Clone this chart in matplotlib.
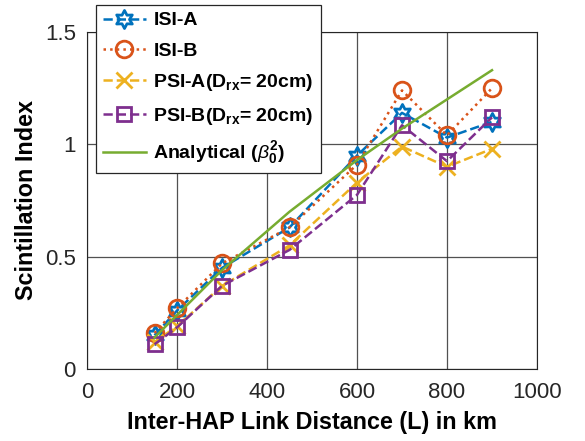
import matplotlib.pyplot as plt
from matplotlib.path import Path
import numpy as np

plt.rcParams['font.family'] = ['Liberation Sans', 'DejaVu Sans']
plt.rcParams['mathtext.fontset'] = 'custom'
plt.rcParams['mathtext.rm'] = 'Liberation Sans:bold'
plt.rcParams['mathtext.bf'] = 'Liberation Sans:bold'
plt.rcParams['mathtext.it'] = 'Liberation Sans:italic'

# link distance in km
dist = [150, 200, 300, 450, 600, 700, 800, 900]
isi_a = [0.15, 0.26, 0.45, 0.63, 0.95, 1.14, 1.03, 1.10]
isi_b = [0.16, 0.27, 0.47, 0.63, 0.91, 1.24, 1.04, 1.25]
psi_a = [0.12, 0.19, 0.37, 0.55, 0.83, 0.99, 0.90, 0.98]
psi_b = [0.11, 0.185, 0.37, 0.53, 0.775, 1.085, 0.925, 1.12]
analytical = [0.14, 0.24, 0.44, 0.70, 0.93, 1.07, 1.20, 1.33]

# six-pointed star marker (MATLAB hexagram look-alike)
ang = np.linspace(0, 2 * np.pi, 13)[:-1] + np.pi / 2
rad = np.where(np.arange(12) % 2 == 0, 1.0, 0.55)
verts = np.column_stack([rad * np.cos(ang), rad * np.sin(ang)])
hexagram = Path(np.vstack([verts, verts[:1]]), closed=True)

fig = plt.figure(figsize=(5.85, 4.41), dpi=100)
ax = fig.add_axes([87 / 585, 1 - 369 / 441, 450 / 585, 337 / 441])

ax.plot(dist, isi_a, '--', color='#0072BD', marker=hexagram, markersize=13,
        mfc='none', mew=2, lw=1.8, label='ISI-A')
ax.plot(dist, isi_b, ':', color='#D95319', marker='o', markersize=12,
        mfc='none', mew=2, lw=1.8, label='ISI-B')
ax.plot(dist, psi_a, '--', color='#EDB120', marker='x', markersize=11.5,
        mew=2, lw=1.8, label=r'PSI-A(D$_{\mathrm{rx}}$= 20cm)')
ax.plot(dist, psi_b, '--', color='#7E2F8E', marker='s', markersize=10.5,
        mfc='none', mew=2, lw=1.8, label=r'PSI-B(D$_{\mathrm{rx}}$= 20cm)')
ax.plot(dist, analytical, '-', color='#77AC30', lw=1.8,
        label=r'Analytical ($\beta_{\mathrm{0}}^{\mathrm{2}}$)')

ax.set_xlim(0, 1000)
ax.set_ylim(0, 1.5)
ax.set_xticks([0, 200, 400, 600, 800, 1000])
ax.set_yticks([0, 0.5, 1, 1.5])
ax.set_yticklabels(['0', '0.5', '1', '1.5'])
ax.grid(True, color='#262626', lw=0.9, alpha=0.8)
ax.tick_params(labelsize=16, labelcolor='#262626', direction='in', length=0)
ax.tick_params(axis='x', pad=9)
ax.tick_params(axis='y', pad=8)
for s in ax.spines.values():
    s.set_color('#262626')

ax.set_xlabel('Inter-HAP Link Distance (L) in km', fontsize=16.8,
              fontweight='bold', labelpad=6)
ax.set_ylabel('Scintillation Index', fontsize=16.8, fontweight='bold',
              labelpad=5)

leg = ax.legend(loc='upper left', bbox_to_anchor=(96 / 585, 1 - 5 / 441),
                bbox_transform=fig.transFigure, borderaxespad=0,
                prop={'weight': 'bold', 'size': 14},
                fancybox=False, edgecolor='#262626', framealpha=1,
                handlelength=2.2, labelspacing=0.65, borderpad=0.35,
                handletextpad=0.4)
leg.get_frame().set_linewidth(0.9)

fig.savefig('out.png', dpi=100)
